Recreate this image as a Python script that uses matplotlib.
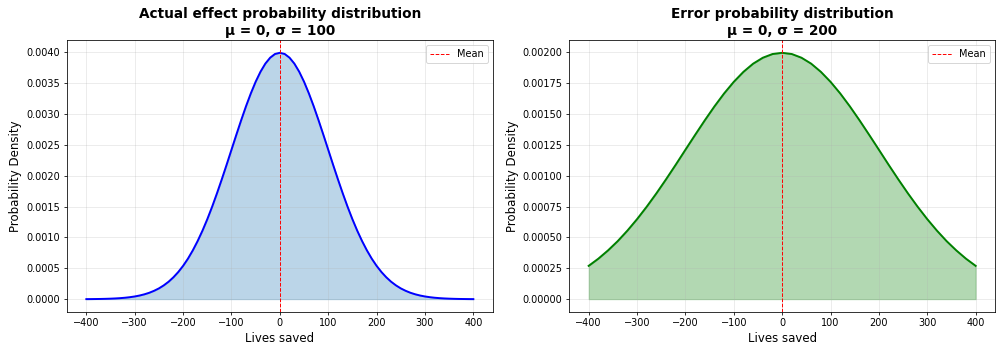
import matplotlib
matplotlib.use("Agg")
import matplotlib.pyplot as plt

# x positions (lives saved), left panel sampled every 10
x_effect_half = [0, 10, 20, 30, 40, 50, 60, 70, 80, 90, 100, 110, 120, 130, 140,
                 150, 160, 170, 180, 190, 200, 210, 220, 230, 240, 250, 260,
                 270, 280, 290, 300, 310, 320, 330, 340, 350, 360, 370, 380,
                 390, 400]
# density (mu = 0, sigma = 100)
effect_half = [0.003989, 0.003970, 0.003910, 0.003814, 0.003683, 0.003521,
               0.003332, 0.003123, 0.002897, 0.002661, 0.002420, 0.002178,
               0.001942, 0.001714, 0.001497, 0.001295, 0.001109, 0.000941,
               0.000790, 0.000656, 0.000540, 0.000440, 0.000355, 0.000283,
               0.000224, 0.000175, 0.000136, 0.000104, 0.0000792, 0.0000595,
               0.0000443, 0.0000327, 0.0000238, 0.0000172, 0.0000123,
               0.0000087, 0.0000061, 0.0000042, 0.0000029, 0.0000020,
               0.0000013]

# x positions, right panel sampled every 20
x_error_half = [0, 20, 40, 60, 80, 100, 120, 140, 160, 180, 200, 220, 240,
                260, 280, 300, 320, 340, 360, 380, 400]
# density (mu = 0, sigma = 200)
error_half = [0.001995, 0.001985, 0.001955, 0.001907, 0.001841, 0.001760,
              0.001666, 0.001561, 0.001448, 0.001330, 0.001210, 0.001089,
              0.000971, 0.000857, 0.000749, 0.000648, 0.000555, 0.000470,
              0.000395, 0.000328, 0.000270]

# symmetric around the mean
x_effect = [-v for v in x_effect_half[::-1]] + x_effect_half[1:]
effect_density = effect_half[::-1] + effect_half[1:]
x_error = [-v for v in x_error_half[::-1]] + x_error_half[1:]
error_density = error_half[::-1] + error_half[1:]

mean_value = 0
titles = ["Actual effect probability distribution\nμ = 0, σ = 100",
          "Error probability distribution\nμ = 0, σ = 200"]

fig, axes = plt.subplots(1, 2, figsize=(1000 / 70.4, 5), dpi=70.4)

panels = [(x_effect, effect_density, "blue", "C0"),
          (x_error, error_density, "green", "green")]
for ax, (xs, dens, lc, fc), title in zip(axes, panels, titles):
    ax.plot(xs, dens, color=lc, linewidth=2)
    ax.fill_between(xs, dens, color=fc, alpha=0.3)
    ax.axvline(mean_value, color="red", linestyle="--", linewidth=1, label="Mean")
    ax.set_title(title, fontsize=14, fontweight="bold")
    ax.set_xlabel("Lives saved", fontsize=12)
    ax.set_ylabel("Probability Density", fontsize=12)
    ax.grid(True, alpha=0.3)
    ax.legend(loc="upper right")

fig.subplots_adjust(left=0.067, right=0.995, bottom=0.115, top=0.885, wspace=0.18)
fig.savefig("out.png", dpi=70.4)
